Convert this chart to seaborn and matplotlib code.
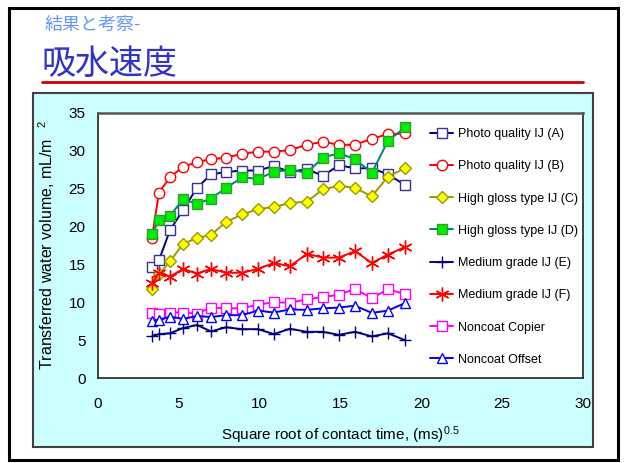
import matplotlib
matplotlib.use("Agg")
import matplotlib.pyplot as plt
from matplotlib import font_manager
from matplotlib.patches import Rectangle
from matplotlib.lines import Line2D
import seaborn as sns
import pandas as pd

# ---- data -------------------------------------------------------------
sqrt_time = [3.34, 3.77, 4.45, 5.26, 6.12, 6.99, 7.92, 8.91, 9.89, 10.88,
             11.87, 12.92, 13.91, 14.90, 15.89, 16.94, 17.93, 18.99]

photo_a = [14.6, 15.55, 19.5, 22.2, 25.1, 26.9, 27.2, 27.4, 27.4, 28.0,
           27.2, 27.6, 26.7, 28.1, 27.7, 27.7, 26.9, 25.5]
photo_b = [18.5, 24.5, 26.5, 27.9, 28.5, 28.9, 29.1, 29.6, 29.9, 29.9,
           30.1, 30.8, 31.2, 30.8, 30.8, 31.6, 32.2, 32.3]
gloss_c = [11.8, 13.7, 15.4, 17.7, 18.5, 18.9, 20.6, 21.6, 22.3, 22.6,
           23.1, 23.3, 24.9, 25.4, 25.1, 24.0, 26.6, 27.7]
gloss_d = [19.0, 20.85, 21.4, 23.6, 23.0, 23.7, 25.1, 26.5, 26.3, 27.2,
           27.5, 27.1, 29.1, 29.7, 28.9, 27.1, 31.3, 33.1]
medium_e = [5.5, 5.8, 5.9, 6.6, 7.0, 6.15, 6.7, 6.45, 6.45, 5.8,
            6.5, 6.1, 6.1, 5.7, 6.1, 5.5, 5.9, 5.0]
medium_f = [12.5, 13.9, 13.4, 14.4, 13.8, 14.4, 13.9, 13.9, 14.4, 15.2,
            14.75, 16.4, 15.9, 15.9, 16.75, 15.2, 16.3, 17.3]
noncoat_copier = [8.65, 8.5, 8.65, 8.65, 8.5, 9.3, 9.2, 9.2, 9.7, 10.0,
                  9.95, 10.4, 10.7, 11.0, 11.75, 10.55, 11.7, 11.1]
noncoat_offset = [7.5, 7.7, 8.1, 7.8, 8.2, 8.05, 8.3, 8.3, 8.9, 8.65,
                  9.05, 9.0, 9.2, 9.3, 9.55, 8.6, 8.9, 9.9]

series_names = ["Photo quality IJ (A)", "Photo quality IJ (B)",
                "High gloss type IJ (C)", "High gloss type IJ (D)",
                "Medium grade IJ (E)", "Medium grade IJ (F)",
                "Noncoat Copier", "Noncoat Offset"]
series_values = [photo_a, photo_b, gloss_c, gloss_d,
                 medium_e, medium_f, noncoat_copier, noncoat_offset]

x_ticks = [0, 5, 10, 15, 20, 25, 30]
y_ticks = [0, 5, 10, 15, 20, 25, 30, 35]

# ---- styles -----------------------------------------------------------
styles = [
    dict(color="#000080", marker="s", mfc="white", mec="#333399", ms=7.0),
    dict(color="#ff0000", marker="o", mfc="white", mec="#ff0000", ms=7.5),
    dict(color="#999900", marker="D", mfc="#ffff00", mec="#999900", ms=5.8),
    dict(color="#008080", marker="s", mfc="#00ee00", mec="#339933", ms=7.5),
    dict(color="#000080", marker="+", mfc="#000080", mec="#000080", ms=9.0),
    dict(color="#ff0000", marker=(6, 2, 0), mfc="#ff0000", mec="#ff0000", ms=10.0),
    dict(color="#ff00ff", marker="s", mfc="white", mec="#ff00ff", ms=7.5),
    dict(color="#0000ff", marker="^", mfc="white", mec="#0000ff", ms=7.5),
]

sns.set_theme(style="white")
installed = {f.name for f in font_manager.fontManager.ttflist}
base_font = "Liberation Sans" if "Liberation Sans" in installed else "DejaVu Sans"
if "Liberation Sans Narrow" in installed:
    legend_prop = {"family": "Liberation Sans Narrow", "size": 10.5}
else:
    legend_prop = {"family": base_font, "size": 9.0}
plt.rcParams["font.family"] = [base_font, "DejaVu Sans"]
plt.rcParams["mathtext.default"] = "regular"
cjk = ["Noto Sans CJK JP", "DejaVu Sans"]

W, H = 626, 463
fig = plt.figure(figsize=(W / 100, H / 100), dpi=100)
fig.patch.set_facecolor("white")

# background layer in pixel coordinates
bg = fig.add_axes([0, 0, 1, 1], zorder=0)
bg.set_xlim(0, W)
bg.set_ylim(H, 0)
bg.axis("off")
bg.add_patch(Rectangle((9, 8), 609, 452, fill=False, edgecolor="black", lw=2.2))
bg.add_patch(Rectangle((33, 93), 560, 354, facecolor="#ccffff",
                       edgecolor="#404040", lw=1.5))
bg.add_line(Line2D([42, 583], [81.5, 81.5], color="#cc0000", lw=2.0))
bg.text(45, 29.5, "結果と考察-", color="#6699ff", fontsize=13,
        family=cjk, va="baseline", ha="left")
bg.text(41, 74, "吸水速度", color="#3333cc", fontsize=24.5,
        family=cjk, va="baseline", ha="left")

# main chart
left, right, top, bottom = 98, 583, 113, 378
ax = fig.add_axes([left / W, 1 - bottom / H, (right - left) / W, (bottom - top) / H],
                  zorder=1)
ax.set_facecolor("white")

for name, vals, st in zip(series_names, series_values, styles):
    df = pd.DataFrame({"t": sqrt_time, "v": vals})
    sns.lineplot(data=df, x="t", y="v", ax=ax, color=st["color"], lw=1.4,
                 marker=st["marker"], markersize=st["ms"],
                 markerfacecolor=st["mfc"], markeredgecolor=st["mec"],
                 markeredgewidth=1.0, label=name, sort=False)

ax.set_xlim(0, 30)
ax.set_ylim(0, 35)
ax.set_xticks(x_ticks)
ax.set_yticks(y_ticks)
ax.set_xticklabels([str(v) for v in x_ticks])
ax.set_yticklabels([str(v) for v in y_ticks])
ax.tick_params(axis="x", direction="in", length=5, width=1, pad=14,
               labelsize=11, colors="black")
ax.tick_params(axis="y", direction="in", length=5, width=1, pad=9,
               labelsize=11, colors="black")
for side in ["left", "bottom", "right"]:
    ax.spines[side].set_color("#222222")
    ax.spines[side].set_linewidth(1.2)
ax.spines["top"].set_color("#555555")
ax.spines["top"].set_linewidth(1.8)

ax.set_xlabel("Square root of contact time, (ms)$^{0.5}$", fontsize=11,
              labelpad=9, color="black")
ax.set_ylabel(r"Transferred water volume, mL/m$^{\ \ \ 2}$", fontsize=11.5,
              labelpad=8, color="black")

leg = ax.legend(loc="upper left", bbox_to_anchor=(430 / W, 1 - 128 / H),
                bbox_transform=fig.transFigure, frameon=False,
                borderpad=0, borderaxespad=0, handlelength=1.85,
                handletextpad=0.35, labelspacing=1.62, prop=legend_prop)
for t in leg.get_texts():
    t.set_color("black")

fig.savefig("out.png", dpi=100, facecolor="white")
